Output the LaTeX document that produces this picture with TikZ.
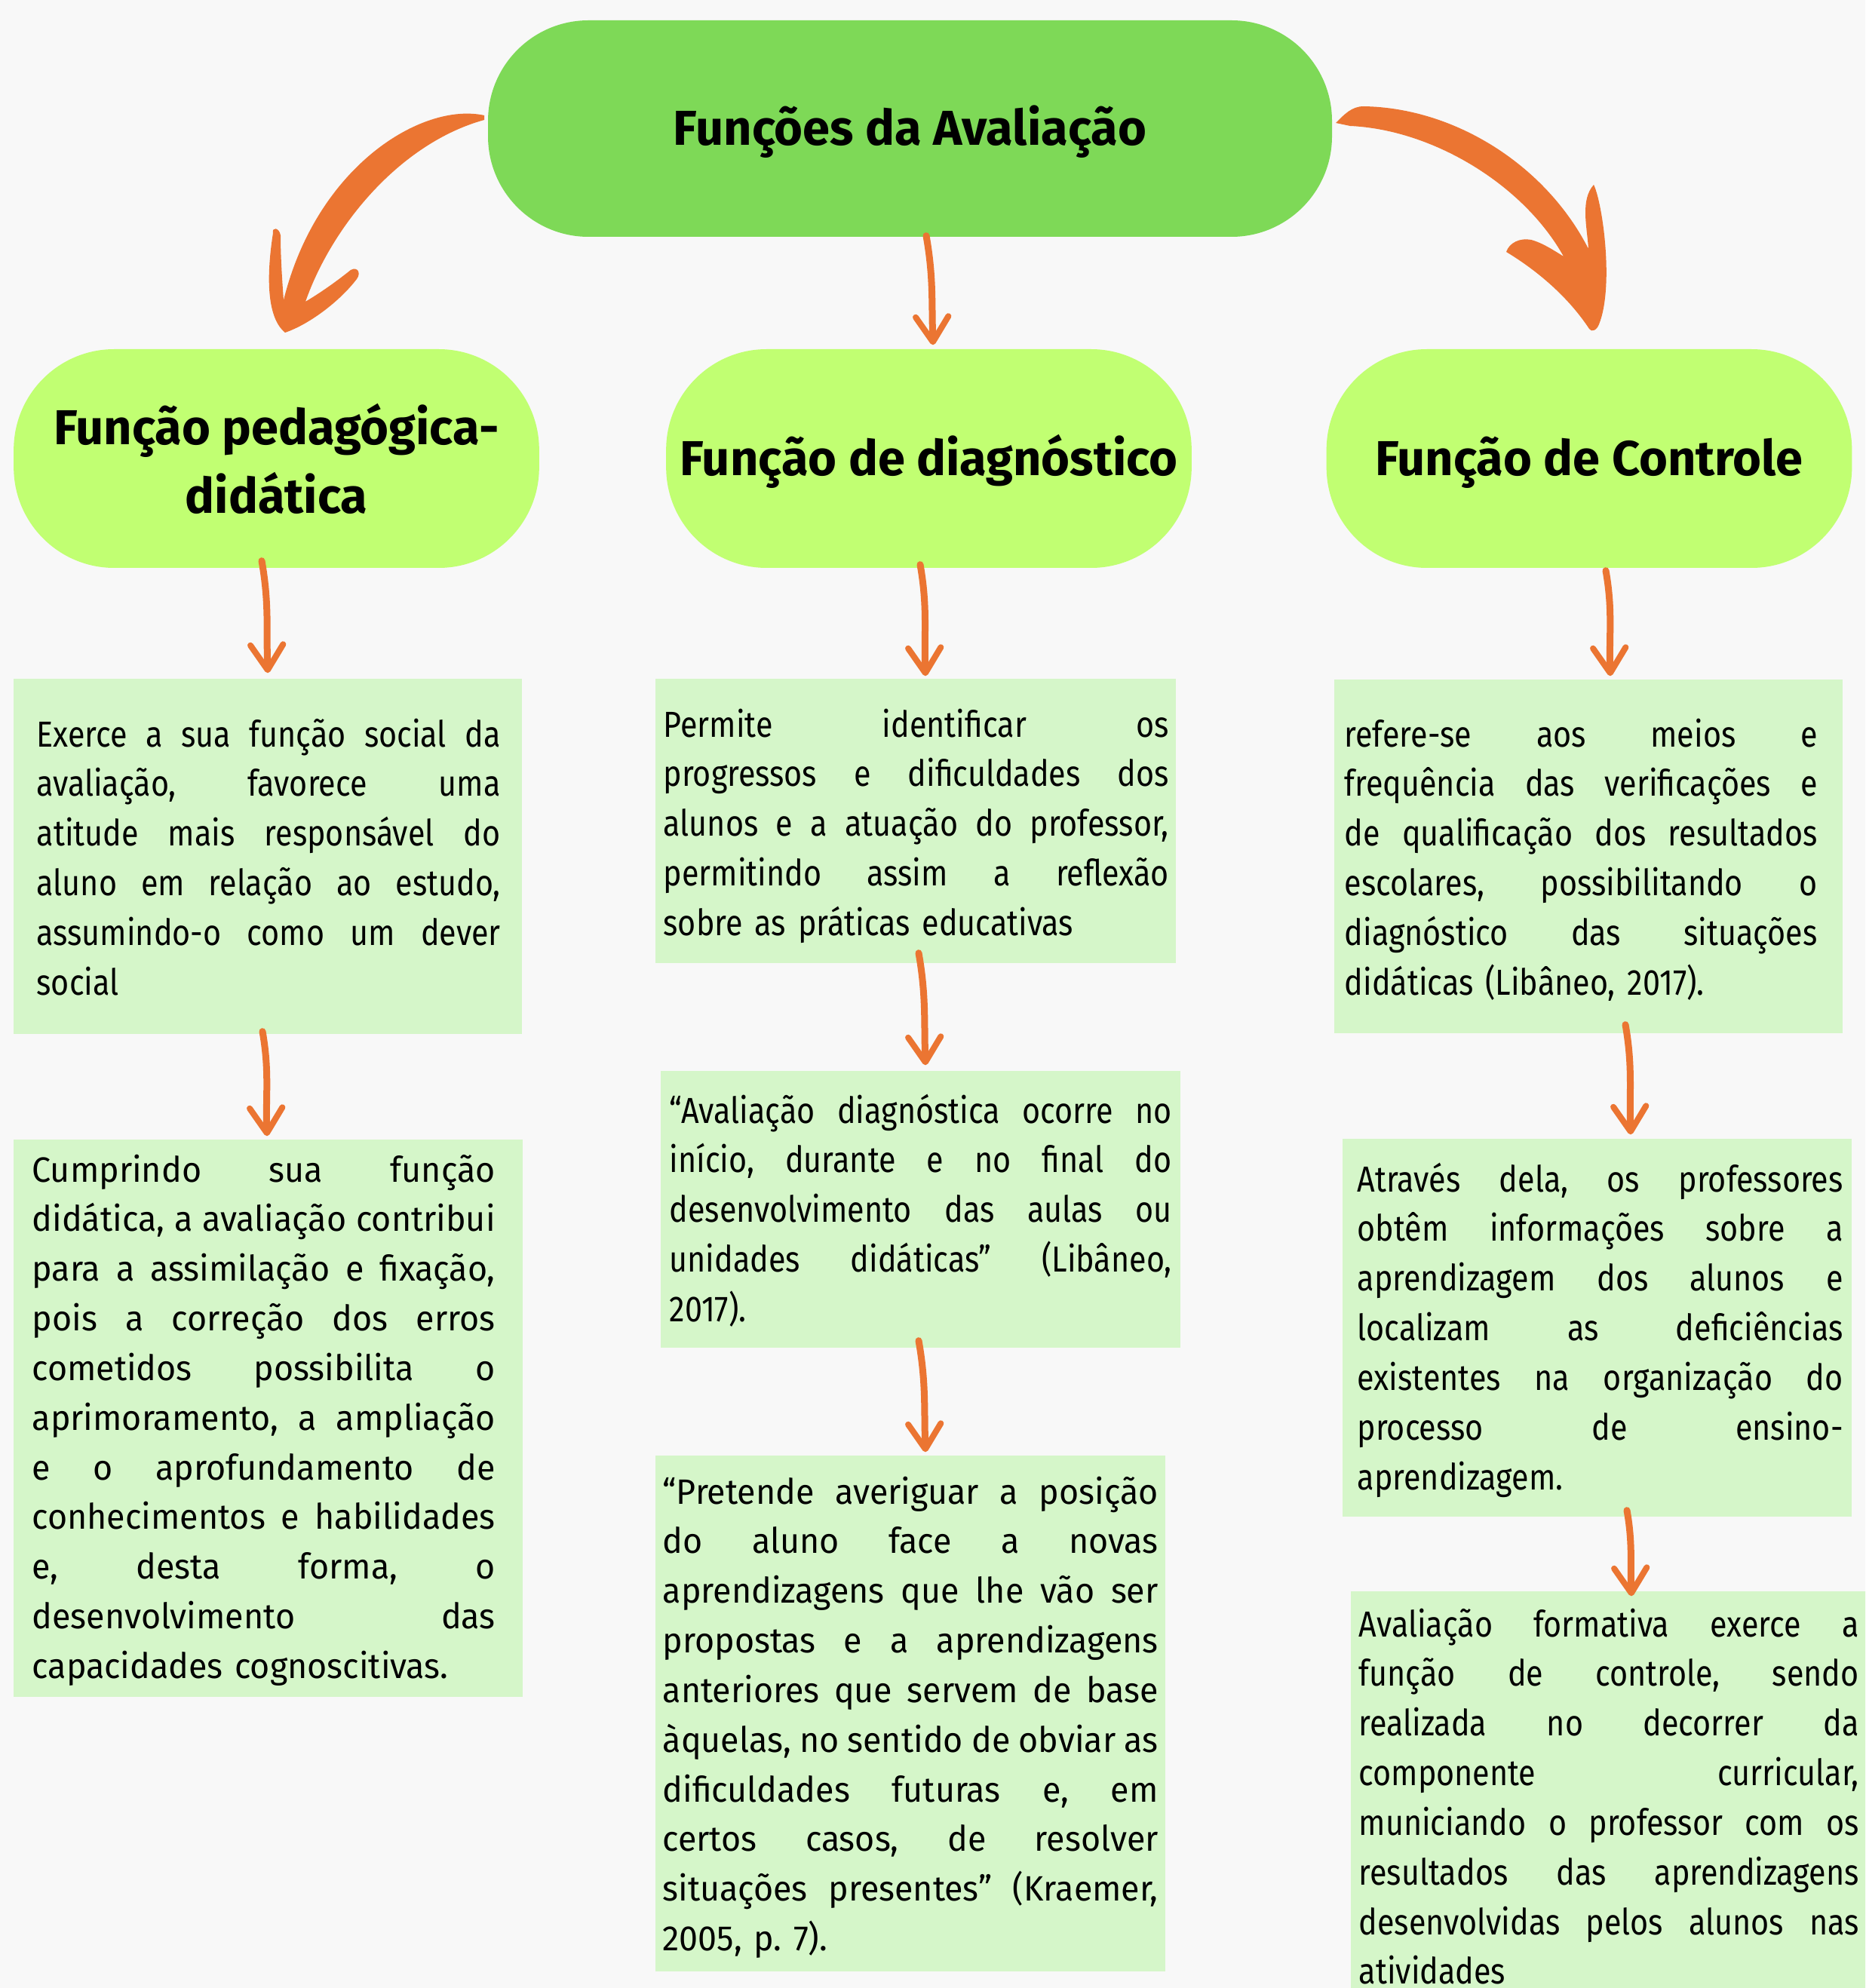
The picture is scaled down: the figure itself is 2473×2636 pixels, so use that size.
\documentclass[tikz,border=0pt]{standalone}
\usepackage{fontspec}
\setmainfont{Fira Sans}
\newfontfamily\narrowfont[FakeStretch=0.86]{Fira Sans}
\newfontfamily\widefont[FakeStretch=0.96]{Fira Sans}
\usetikzlibrary{arrows.meta}
\frenchspacing
\definecolor{bg}{HTML}{F8F8F8}
\definecolor{topgreen}{HTML}{7ED957}
\definecolor{limegreen}{HTML}{C1FF72}
\definecolor{boxgreen}{HTML}{D5F6C9}
\definecolor{arroworange}{HTML}{EB7532}
\newlength\linew
\newcommand\jl[1]{\noindent\hbox to \linew{\spaceskip=0.22em plus 1fil\relax #1}\par}
\newcommand\lastline[1]{\noindent\hbox{#1}\par}
\tikzset{
  toppill/.style={fill=topgreen, rounded corners=40pt, minimum width=335.7pt, minimum height=86.1pt,
    inner sep=0pt, font=\fontsize{19.5}{24}\selectfont\bfseries, text height=13.4pt, text depth=0pt},
  pill/.style={fill=limegreen, rounded corners=40pt, minimum height=87pt, minimum width=209pt,
    inner sep=0pt, align=center, font=\fontsize{19.5}{27.3}\selectfont\bfseries},
  onepill/.style={pill, text height=13.4pt, text depth=0pt},
  textbox/.style={fill=boxgreen, inner sep=0pt},
  bodytext/.style={anchor=base west, inner sep=0pt, text width=#1,
    execute at begin node={\setlength\linew{#1}}},
  narrowtext/.style={bodytext=#1, font=\narrowfont\fontsize{14.4}{19.75}\selectfont},
  widetext/.style={bodytext=#1, font=\widefont\fontsize{14}{19.75}\selectfont},
  sarrow/.style={draw=arroworange, line width=2.7pt, line cap=round,
    -{Straight Barb[length=10pt,width=13pt,line width=2.4pt,round]}},
  brush/.style={fill=arroworange}
}
\begin{document}
\begin{tikzpicture}[x=0.3pt,y=-0.3pt]
\useasboundingbox (0,0) rectangle (2473,2636);
\clip (0,0) rectangle (2473,2636);
\fill[bg] (0,0) rectangle (2473,2636);

% top and second level
\node[toppill] (top) at (1206.5,170.5) {Funções da Avaliação};
\node[pill] (lp) at (366.5,608) {Função pedagógica-\\didática};
\node[onepill] (mp) at (1231.5,608) {Função de diagnóstico};
\node[onepill] (rp) at (2107,608) {Função de Controle};

% text boxes
\node[textbox, minimum width=202.2pt, minimum height=141.3pt] (a) at (355,1135.5) {};
\node[textbox, minimum width=202.5pt, minimum height=221.7pt] (b) at (355.5,1880.5) {};
\node[textbox, minimum width=207pt, minimum height=113.1pt] (c) at (1214,1088.5) {};
\node[textbox, minimum width=206.7pt, minimum height=110.1pt] (d) at (1220.5,1603.5) {};
\node[textbox, minimum width=202.8pt, minimum height=205.2pt] (e) at (1207,2272) {};
\node[textbox, minimum width=202.2pt, minimum height=140.7pt] (f) at (2106,1135.5) {};
\node[textbox, minimum width=202.5pt, minimum height=150.3pt] (g) at (2117.5,1760.5) {};
\node[textbox, minimum width=206.7pt, minimum height=177pt] (h) at (2135.5,2405) {};

\node[narrowtext=184.5pt] (at) at (48,990) {%
\jl{Exerce a sua função social da}
\jl{avaliação, favorece uma}
\jl{atitude mais responsável do}
\jl{aluno em relação ao estudo,}
\jl{assumindo-o como um dever}
\lastline{social}};

\node[widetext=184.2pt] (bt) at (42,1567) {%
\jl{Cumprindo sua função}
\jl{didática, a avaliação contribui}
\jl{para a assimilação e fixação,}
\jl{pois a correção dos erros}
\jl{cometidos possibilita o}
\jl{aprimoramento, a ampliação}
\jl{e o aprofundamento de}
\jl{conhecimentos e habilidades}
\jl{e, desta forma, o}
\jl{desenvolvimento das}
\lastline{capacidades cognoscitivas.}};

\node[narrowtext=201pt] (ct) at (879,977) {%
\jl{Permite identificar os}
\jl{progressos e dificuldades dos}
\jl{alunos e a atuação do professor,}
\jl{permitindo assim a reflexão}
\lastline{sobre as práticas educativas}};

\node[narrowtext=199.8pt] (dt) at (887,1489) {%
\jl{“Avaliação diagnóstica ocorre no}
\jl{início, durante e no final do}
\jl{desenvolvimento das aulas ou}
\jl{unidades didáticas” (Libâneo,}
\lastline{2017).}};

\node[widetext=197.1pt] (et) at (878,1994) {%
\jl{“Pretende averiguar a posição}
\jl{do aluno face a novas}
\jl{aprendizagens que lhe vão ser}
\jl{propostas e a aprendizagens}
\jl{anteriores que servem de base}
\jl{àquelas, no sentido de obviar as}
\jl{dificuldades futuras e, em}
\jl{certos casos, de resolver}
\jl{situações presentes” (Kraemer,}
\lastline{2005, p. 7).}};

\node[narrowtext=188.1pt] (ft) at (1782,990) {%
\jl{refere-se aos meios e}
\jl{frequência das verificações e}
\jl{de qualificação dos resultados}
\jl{escolares, possibilitando o}
\jl{diagnóstico das situações}
\lastline{didáticas (Libâneo, 2017).}};

\node[narrowtext=193.2pt] (gt) at (1799,1580) {%
\jl{Através dela, os professores}
\jl{obtêm informações sobre a}
\jl{aprendizagem dos alunos e}
\jl{localizam as deficiências}
\jl{existentes na organização do}
\jl{processo de ensino-}
\lastline{aprendizagem.}};

\node[narrowtext=198.9pt] (ht) at (1801,2170) {%
\jl{Avaliação formativa exerce a}
\jl{função de controle, sendo}
\jl{realizada no decorrer da}
\jl{componente curricular,}
\jl{municiando o professor com os}
\jl{resultados das aprendizagens}
\jl{desenvolvidas pelos alunos nas}
\lastline{atividades}};

% big brush arrows
\fill[brush] (642,153)
  .. controls (560,135) and (420,220) .. (376,398)
  .. controls (374,370) and (372,340) .. (372,312)
  .. controls (370,301) and (360,301) .. (362,309)
  .. controls (354,360) and (352,420) .. (378,441)
  .. controls (410,430) and (450,400) .. (473,370)
  .. controls (479,362) and (474,353) .. (465,358)
  .. controls (450,370) and (430,385) .. (405,400)
  .. controls (440,300) and (530,190) .. (642,159)
  -- cycle;
\fill[brush] (1771,163)
  .. controls (1782,152) and (1792,141) .. (1808,141)
  .. controls (1930,143) and (2050,220) .. (2106,330)
  .. controls (2104,300) and (2095,265) .. (2113,245)
  .. controls (2125,270) and (2140,380) .. (2120,430)
  .. controls (2117,438) and (2110,441) .. (2107,436)
  .. controls (2080,395) and (2040,360) .. (1997,334)
  .. controls (2001,322) and (2015,315) .. (2030,318)
  .. controls (2045,322) and (2060,332) .. (2073,340)
  .. controls (2020,245) and (1900,172) .. (1790,167)
  -- cycle;

% small arrows
\draw[sarrow] ([xshift=6.45pt,yshift=0.6pt]top.south) to[out=-80,in=92] ([xshift=1.65pt,yshift=1.5pt]mp.north);
\draw[sarrow] ([xshift=-5.85pt,yshift=3pt]lp.south) to[out=-80,in=92] ([xshift=0pt,yshift=2.1pt]a.north);
\draw[sarrow] ([xshift=-3.45pt,yshift=1.5pt]mp.south) to[out=-80,in=92] ([xshift=3.9pt,yshift=0.9pt]c.north);
\draw[sarrow] ([xshift=6.6pt,yshift=-0.9pt]rp.south) to[out=-80,in=92] ([xshift=8.7pt,yshift=1.2pt]f.north);
\draw[sarrow] ([xshift=-2.1pt,yshift=1.2pt]a.south) to[out=-80,in=92] ([xshift=-0.45pt,yshift=1.2pt]b.north);
\draw[sarrow] ([xshift=1.2pt,yshift=4.2pt]c.south) to[out=-80,in=92] ([xshift=1.95pt,yshift=2.1pt]d.north);
\draw[sarrow] ([xshift=-0.75pt,yshift=3pt]d.south) to[out=-80,in=92] ([xshift=6pt,yshift=1.2pt]e.north);
\draw[sarrow] ([xshift=14.7pt,yshift=3.6pt]f.south) to[out=-80,in=92] ([xshift=13.35pt,yshift=1.5pt]g.north);
\draw[sarrow] ([xshift=11.85pt,yshift=2.7pt]g.south) to[out=-80,in=92] ([xshift=8.25pt,yshift=-2.1pt]h.north);
\end{tikzpicture}
\end{document}
